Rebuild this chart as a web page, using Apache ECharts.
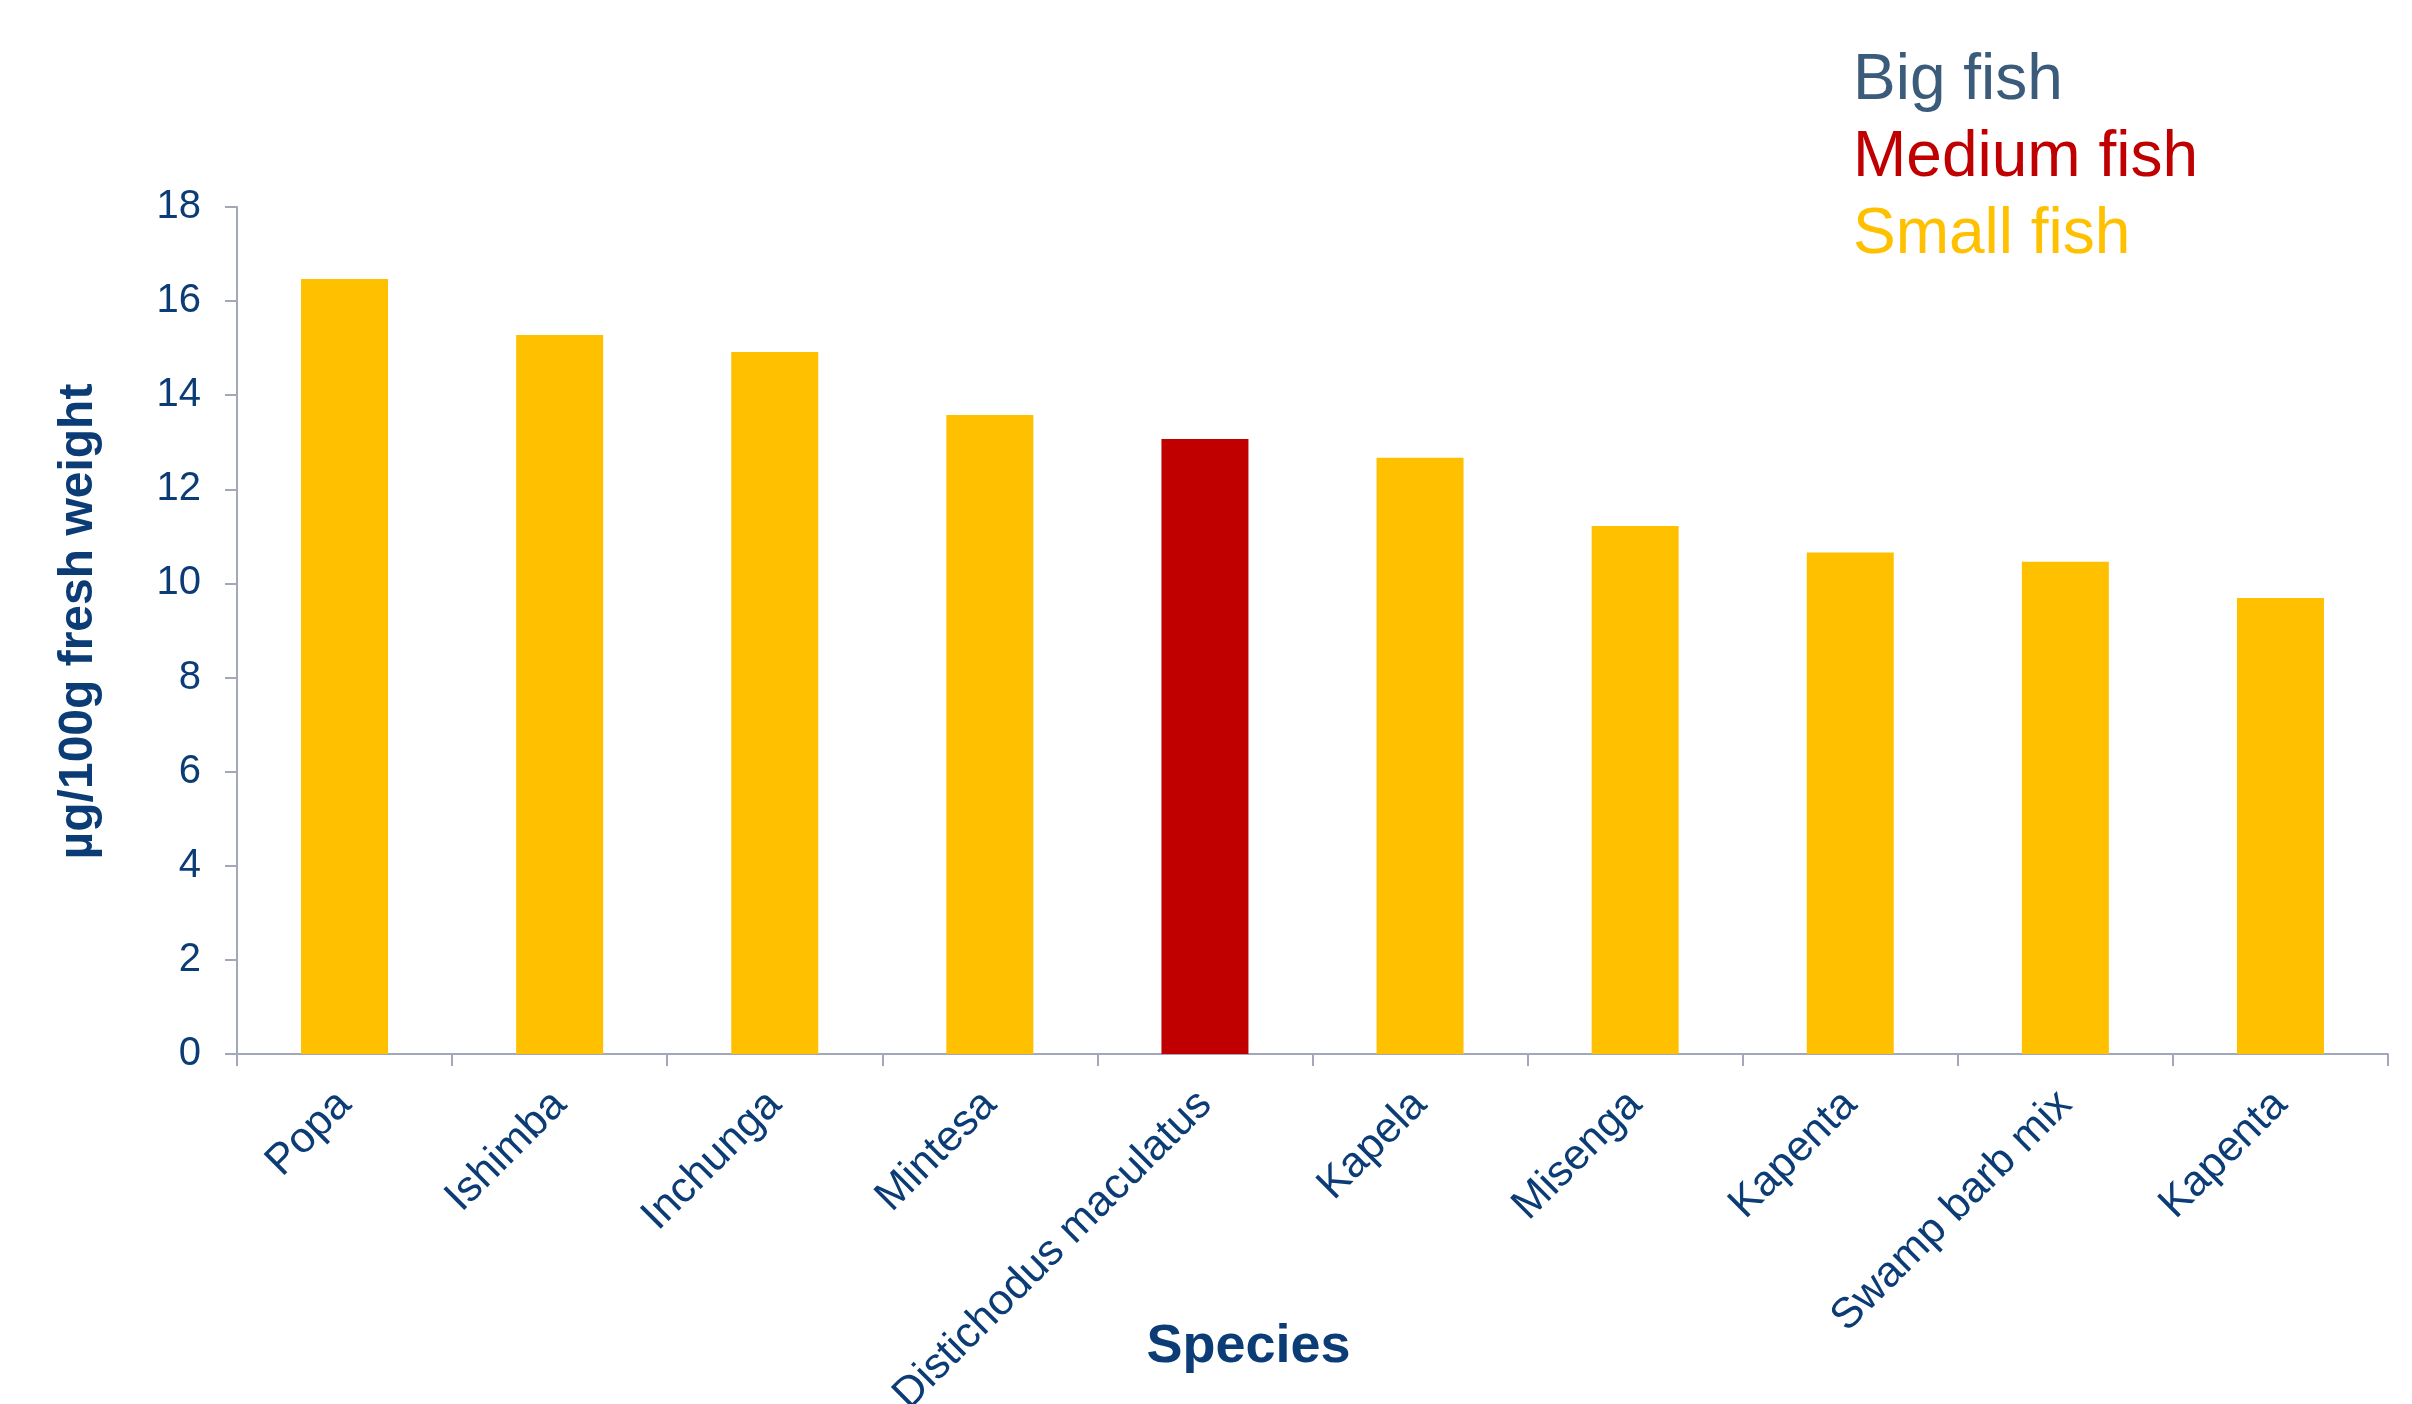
<!DOCTYPE html>
<html>
<head>
<meta charset="utf-8">
<script src="https://cdn.jsdelivr.net/npm/echarts@6/dist/echarts.min.js"></script>
<style>
html,body{margin:0;padding:0;background:#fff;}
#chart{width:2412px;height:1404px;}
</style>
</head>
<body>
<div id="chart"></div>
<script>
// ---- data ----
var categories = ['Popa', 'Ishimba', 'Inchunga', 'Mintesa', 'Distichodus maculatus', 'Kapela', 'Misenga', 'Kapenta', 'Swamp barb mix', 'Kapenta'];
var values = [16.47, 15.28, 14.92, 13.58, 13.07, 12.67, 11.22, 10.66, 10.46, 9.69];
var sizeClass = ['Small fish', 'Small fish', 'Small fish', 'Small fish', 'Medium fish', 'Small fish', 'Small fish', 'Small fish', 'Small fish', 'Small fish'];
var classNames = ['Big fish', 'Medium fish', 'Small fish'];
var classColors = ['#3B5B7B', '#C00000', '#FFC000'];
var yTicks = [0, 2, 4, 6, 8, 10, 12, 14, 16, 18];

var textColor = '#0B3C75';
var axisColor = '#A3A7BA';
var font = "'Liberation Sans', Arial, sans-serif";

var series = classNames.map(function (cls, k) {
  return {
    name: cls,
    type: 'bar',
    barWidth: 87,
    barGap: '-100%',
    itemStyle: { color: classColors[k] },
    data: values.map(function (v, i) { return sizeClass[i] === cls ? v : '-'; })
  };
});

var chart = echarts.init(document.getElementById('chart'), null, { renderer: 'canvas' });
chart.setOption({
  animation: false,
  backgroundColor: '#ffffff',
  textStyle: { fontFamily: font },
  grid: { left: 237, right: 24, top: 207, bottom: 350, containLabel: false, outerBoundsMode: 'none' },
  legend: {
    orient: 'vertical',
    left: 1843,
    top: 44,
    icon: 'none',
    itemWidth: 0,
    itemHeight: 10,
    itemGap: 13,
    selectedMode: false,
    data: classNames.map(function (n, k) {
      return { name: n, textStyle: { color: classColors[k] } };
    }),
    textStyle: { fontSize: 64, fontFamily: font, lineHeight: 64 }
  },
  xAxis: {
    type: 'category',
    data: categories,
    name: 'Species',
    nameLocation: 'middle',
    nameGap: 266,
    nameMoveOverlap: false,
    nameTextStyle: { fontSize: 54, fontWeight: 'bold', color: textColor, fontFamily: font, padding: [0, 128, 0, 0] },
    axisLine: { lineStyle: { color: axisColor, width: 2 } },
    axisTick: { show: true, length: 12, lineStyle: { color: axisColor, width: 2 }, alignWithLabel: false },
    axisLabel: { interval: 0, rotate: 45, margin: 44, fontSize: 43, color: textColor, fontFamily: font, hideOverlap: false },
    splitLine: { show: false }
  },
  yAxis: {
    type: 'value',
    min: yTicks[0],
    max: yTicks[yTicks.length - 1],
    interval: yTicks[1] - yTicks[0],
    name: 'µg/100g fresh weight',
    nameLocation: 'middle',
    nameGap: 134,
    nameMoveOverlap: false,
    nameTextStyle: { fontSize: 48, fontWeight: 'bold', color: textColor, fontFamily: font, padding: [0, 0, 0, 18] },
    axisLine: { show: true, lineStyle: { color: axisColor, width: 2 } },
    axisTick: { show: true, length: 12, lineStyle: { color: axisColor, width: 2 } },
    axisLabel: { margin: 36, fontSize: 40, color: textColor, fontFamily: font },
    splitLine: { show: false }
  },
  series: series
});
</script>
</body>
</html>
